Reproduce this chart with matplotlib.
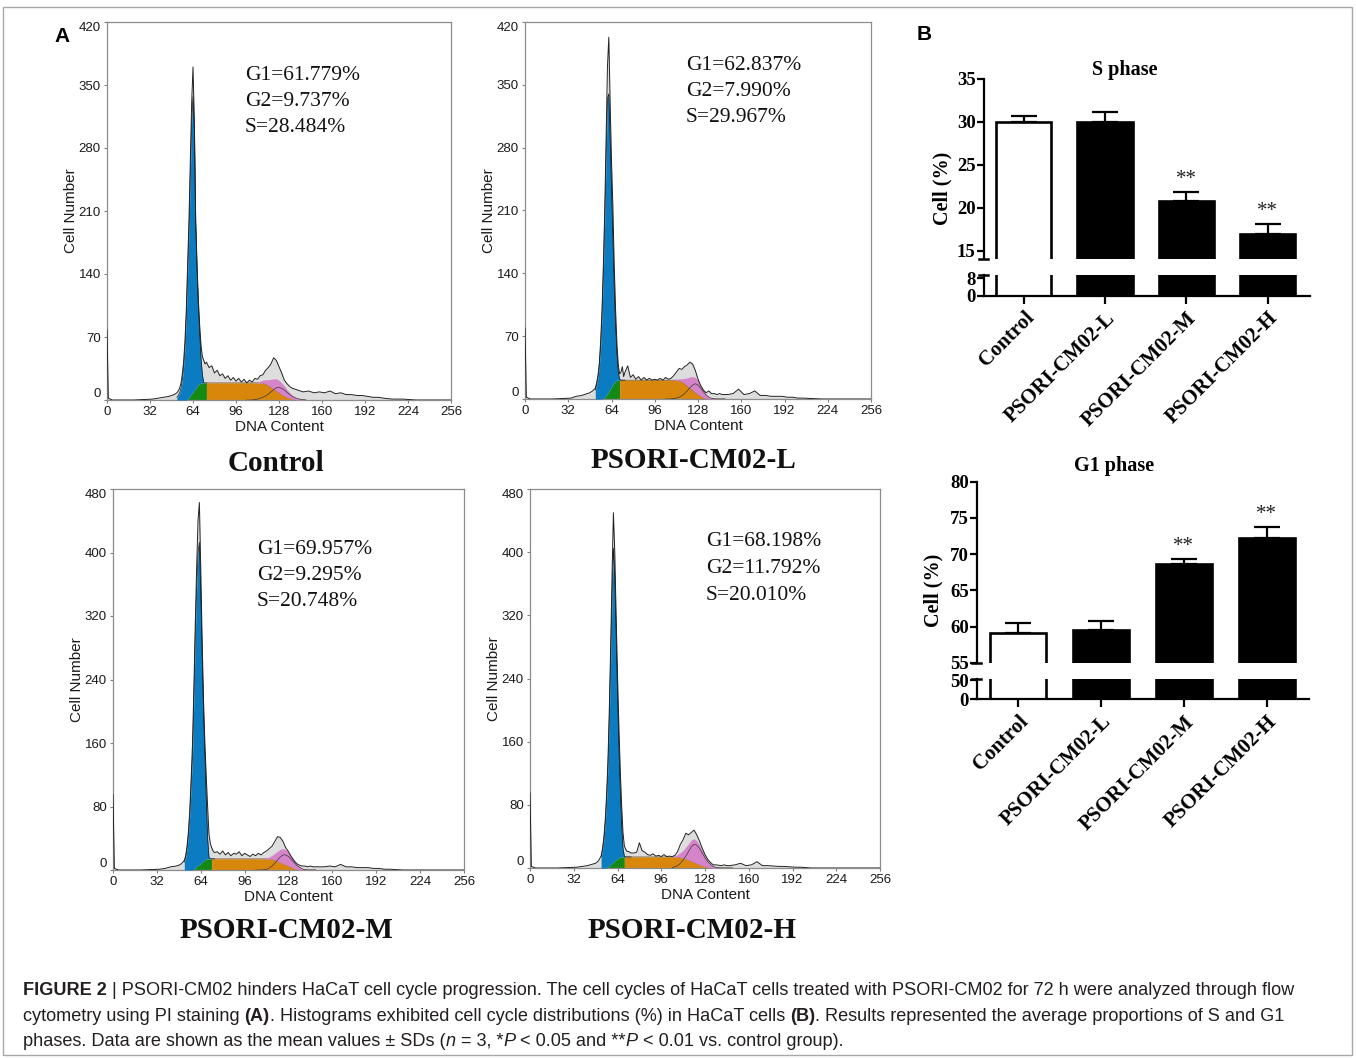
import numpy as np
import matplotlib
matplotlib.use("Agg")
import matplotlib.pyplot as plt
from matplotlib.lines import Line2D
from matplotlib.patches import Rectangle
from matplotlib.font_manager import FontProperties

plt.rcParams['font.family'] = ['Liberation Sans', 'DejaVu Sans']

# ---------------- data: flow cytometry histograms (panel A) ----------------
hist_channels = [0, 1, 4, 20, 34, 38, 42, 46, 48, 50] + list(range(52, 75)) + \
    list(range(76, 147, 2)) + list(range(150, 207, 4)) + [212, 220, 230, 256]
s_channels = list(range(52, 75)) + list(range(76, 149, 2))
g1_channels = list(range(52, 75))
g2_channels = list(range(104, 149, 2))

ctrl_total = [78, 2, 0, 0, 1, 2, 3, 4, 5, 6,
              8, 10, 13, 18, 28, 42, 65, 100, 150, 200, 265, 330, 370, 310, 200, 150, 110, 82, 60, 48, 44, 40, 42,
              36, 38, 30, 33, 27, 29, 24, 27, 22, 25, 21, 24, 20, 23, 19, 22, 20, 24, 23, 27, 28, 33, 36, 40, 47, 44,
              37, 30, 22, 18, 15, 13, 12, 11, 10, 9,
              10, 8, 9, 8, 10, 7, 8, 6, 6, 5, 5, 4, 3, 3, 2,
              1, 1, 0, 0]
ctrl_s = [0, 0, 0, 0, 0, 0, 0, 0, 1, 3, 5, 7, 9, 11, 13, 15, 17, 18, 19, 19, 19, 19, 19,
          19, 19, 19, 19, 19, 19, 19, 19, 19, 19, 19, 19, 19, 19, 19, 19, 19, 19, 19, 19, 19,
          18, 16, 14, 12, 10, 8, 6, 4.5, 3, 2, 1, 0.5, 0, 0, 0, 0]
ctrl_g1 = [3, 5, 8, 13, 22, 36, 58, 92, 139, 185, 245, 303, 328, 290, 182, 130, 88, 56, 26, 9, 0, 0, 0]
ctrl_g2 = [0, 0, 0, 0.5, 1, 2, 3, 4.5, 6.5, 9, 11.5, 13.5, 14, 13, 11, 8.5, 6, 4, 2.5, 1.5, 0.8, 0.3, 0]

l_total = [79, 2, 0, 0, 1, 3, 4, 6, 7, 9,
           12, 18, 26, 40, 65, 100, 150, 210, 290, 370, 403, 330, 265, 215, 150, 100, 62, 38, 28, 30, 36, 25, 30,
           37, 24, 27, 22, 25, 21, 24, 21, 23, 21, 22, 21, 23, 21, 24, 22, 23, 26, 30, 34, 33, 36, 38, 41, 39, 32,
           22, 15, 10, 7, 9, 6, 6, 5, 6, 5,
           5, 6, 11, 5, 6, 9, 4, 4, 3, 3, 3, 2, 2, 1, 1,
           0.5, 0, 0, 0]
l_s = [0, 0, 0, 0, 0, 0, 0.5, 2, 4, 6, 8.5, 11, 13.5, 16, 18, 20, 21, 21, 21, 21, 21, 21, 21,
       21, 21, 21, 21, 21, 21, 21, 21, 21, 21, 21, 21, 21, 21, 21, 21, 21, 21, 21,
       20.5, 19, 17, 14.5, 12, 9.5, 7, 5, 3, 1.5, 0.5, 0, 0, 0, 0, 0, 0, 0]
l_g1 = [10, 16, 24, 37, 60, 95, 141.5, 198, 266, 329, 331.5, 279, 221.5, 164, 107, 62, 29, 9, 1, 0, 0, 0, 0]
l_g2 = [0, 0, 0.2, 0.5, 1, 2, 3.5, 6, 9, 12.5, 15.5, 17, 15.5, 12, 8, 4.5, 2, 0.8, 0.2, 0, 0, 0, 0]

m_total = [95, 2, 0, 0, 1, 2, 4, 5, 6, 8,
           12, 18, 30, 48, 75, 115, 160, 230, 310, 380, 440, 463, 380, 290, 215, 160, 118, 80, 45, 33, 28, 24, 22,
           23, 20, 24, 19, 22, 18, 21, 20, 23, 18, 21, 19, 17, 20, 18, 21, 19, 22, 24, 27, 30, 36, 42, 41, 36, 28,
           23, 17, 12, 8, 6, 5, 5, 4, 5, 4,
           4, 4, 5, 4, 7, 4, 4, 3, 3, 3, 2, 2, 1, 1, 0.5,
           0, 0, 0, 0]
m_s = [0, 0, 0, 0, 0, 0, 0, 1, 2.5, 4, 5.5, 7, 8.5, 10, 11.5, 13, 14, 14, 14, 14, 14, 14, 14,
       14, 14, 14, 14, 14, 14, 14, 14, 14, 14, 14, 14, 14, 14, 14, 14, 14, 14, 14, 14,
       13.5, 12.5, 11, 9.5, 8, 6.5, 5, 3.5, 2, 1, 0.3, 0, 0, 0, 0, 0, 0]
m_g1 = [10, 16, 27, 44, 70, 108, 145, 219, 292.5, 351, 394.5, 406, 341.5, 260, 188.5, 132, 76, 26, 2, 0.5, 0, 0, 0]
m_g2 = [0, 0, 0, 0.3, 1, 2.5, 5, 8.5, 12.5, 16.5, 19, 19, 17, 13.5, 9.5, 6, 3.5, 1.5, 0.5, 0, 0, 0, 0]

h_total = [95, 2, 0, 0, 1, 2, 3, 5, 6, 9,
           15, 24, 38, 60, 92, 135, 200, 280, 370, 450, 400, 320, 245, 180, 125, 80, 45, 28, 24, 21, 21, 20, 19,
           19, 20, 32, 22, 20, 17, 16, 18, 15, 16, 14.5, 17, 14.5, 15, 14.5, 16, 21, 30, 36, 44, 42, 45, 48, 42,
           34, 25, 17, 11, 7, 4, 4, 3.5, 3, 4, 3, 3,
           4, 6, 3, 4, 8, 3, 3, 2.5, 2, 2, 1.5, 1, 1, 0.5, 0,
           0, 0, 0, 0]
h_s = [0, 0, 0, 0, 0.3, 1.5, 3, 4.5, 6, 7.5, 9, 10.5, 12, 13, 14, 14, 14, 14, 14, 14, 14, 14, 14,
       14, 14, 14, 14, 14, 14, 14, 14, 14, 14, 14, 14, 14, 14, 14, 14, 14,
       13.5, 12.5, 11.5, 10, 8.5, 7, 5.5, 4, 3, 2, 1, 0.4, 0, 0, 0, 0, 0, 0, 0, 0]
h_g1 = [14, 22, 35, 56, 85.7, 126.5, 187, 260.5, 339, 397.5, 361, 284.5, 208, 142, 86, 41, 11, 1, 0, 0, 0, 0, 0]
h_g2 = [0.5, 1.5, 3, 6, 10, 15, 21, 27, 30, 29, 25, 19, 13, 8, 4.5, 2, 0.8, 0.2, 0, 0, 0, 0, 0]

ctrl_stats = ["G1=61.779%", "G2=9.737%", "S=28.484%"]
l_stats = ["G1=62.837%", "G2=7.990%", "S=29.967%"]
m_stats = ["G1=69.957%", "G2=9.295%", "S=20.748%"]
h_stats = ["G1=68.198%", "G2=11.792%", "S=20.010%"]

# ---------------- data: bar charts (panel B) ----------------
groups = ["Control", "PSORI-CM02-L", "PSORI-CM02-M", "PSORI-CM02-H"]
s_phase_mean = [30.0, 30.0, 20.8, 17.0]
s_phase_sd = [0.75, 1.15, 1.0, 1.1]
g1_phase_mean = [59.15, 59.45, 68.6, 72.25]
g1_phase_sd = [1.4, 1.3, 0.7, 1.45]
signif = ["", "", "**", "**"]

# ---------------- figure ----------------
W, H = 1356, 1058
fig = plt.figure(figsize=(W / 100, H / 100), dpi=100)

BLUE = '#0B7CC1'
GREEN = '#148A14'
ORANGE = '#D8870C'
PINK = '#D684C9'
GRAY = '#dddddd'


def px_axes(l, t, r, b):
    return fig.add_axes([l / W, 1 - b / H, (r - l) / W, (b - t) / H])


def histogram_panel(box, ymax, ystep, total, s, g1, g2, split, stats, stats_xy, title, title_xy):
    ax = px_axes(*box)
    ch = np.array(hist_channels, float)
    tot = np.array(total, float)
    ax.fill_between(ch, 0, tot, color=GRAY, lw=0, zorder=1)
    sc = np.array(s_channels, float)
    sv = np.array(s, float)
    mg = sc <= split
    mo = sc >= split
    ax.fill_between(sc[mg], 0, sv[mg], color=GREEN, lw=0, zorder=2)
    ax.fill_between(sc[mo], 0, sv[mo], color=ORANGE, lw=0, zorder=2)
    ax.plot(sc[mo], sv[mo], color='#5a3a00', lw=0.4, zorder=2.5)
    i1 = [s_channels.index(c) for c in g1_channels]
    b1 = sv[i1]
    g1v = np.array(g1, float)
    ax.fill_between(g1_channels, b1, b1 + g1v, color=BLUE, lw=0, zorder=3)
    ax.plot(g1_channels, b1 + g1v, color='#1a1a1a', lw=0.5, zorder=4)
    i2 = [s_channels.index(c) for c in g2_channels]
    b2 = sv[i2]
    g2v = np.array(g2, float)
    ax.fill_between(g2_channels, b2, b2 + g2v, color=PINK, lw=0, zorder=3)
    ax.plot(g2_channels, g2v, color='#3a3a3a', lw=0.5, zorder=4)
    ax.plot(ch, tot, color='#222222', lw=0.7, zorder=5)
    ax.set_xlim(0, 256)
    ax.set_ylim(0, ymax)
    ax.set_xticks(np.arange(0, 257, 32))
    ax.set_yticks(np.arange(0, ymax + 1, ystep))
    ax.tick_params(labelsize=9.5, length=2.5, width=0.8, color='#808080', pad=2, labelcolor='#1a1a1a')
    for sp in ax.spines.values():
        sp.set_color('#8c8c8c')
        sp.set_linewidth(0.9)
    ax.set_xlabel('DNA Content', fontsize=11, labelpad=1, color='#1a1a1a')
    ax.set_ylabel('Cell Number', fontsize=11, labelpad=0.5, color='#1a1a1a')
    yt = ax.yaxis.get_major_ticks()
    yt[0].label1.set_va('bottom')
    yt[-1].label1.set_va('top')
    x0, y0 = stats_xy
    for k, line in enumerate(stats):
        fig.text(x0 / W, 1 - (y0 + 26.5 * k) / H, line, family='Liberation Serif',
                 fontsize=15.5, ha='left', va='center', color='#111111')
    fig.text(title_xy[0] / W, 1 - title_xy[1] / H, title, family='Liberation Serif',
             fontweight='bold', fontsize=21, ha='center', va='center', color='#111111')


histogram_panel((107, 22, 451, 400), 420, 70, ctrl_total, ctrl_s, ctrl_g1, ctrl_g2, 74,
                ctrl_stats, (245, 75), "Control", (276, 463))
histogram_panel((525, 22, 871, 399), 420, 70, l_total, l_s, l_g1, l_g2, 70,
                l_stats, (686, 65), "PSORI-CM02-L", (693, 461))
histogram_panel((113, 489, 464, 870), 480, 80, m_total, m_s, m_g1, m_g2, 72,
                m_stats, (257, 549), "PSORI-CM02-M", (286, 931))
histogram_panel((530, 489, 880, 868), 480, 80, h_total, h_s, h_g1, h_g2, 69,
                h_stats, (706, 542), "PSORI-CM02-H", (692, 930))


def bar_panel(up_box, low_box, up_lim, low_lim, up_ticks, low_ticks, means, sds,
              title, title_xy, ylabel_xy, xlim):
    axu = px_axes(*up_box)
    axl = px_axes(*low_box)
    x = np.arange(len(groups))
    colors = ['white', 'black', 'black', 'black']
    for ax in (axu, axl):
        ax.bar(x, means, width=0.68, color=colors, edgecolor='black', linewidth=1.9, zorder=2)
        ax.set_xlim(*xlim)
        ax.spines['top'].set_visible(False)
        ax.spines['right'].set_visible(False)
        ax.spines['left'].set_linewidth(1.6)
        ax.spines['bottom'].set_linewidth(1.6)
        ax.tick_params(axis='y', direction='out', length=5, width=1.6, labelsize=13.5, pad=1)
        ax.set_facecolor('none')
    axu.errorbar(x, means, yerr=[np.zeros(len(x)), sds], fmt='none', ecolor='black',
                 elinewidth=1.6, capsize=9.5, capthick=1.6, zorder=1)
    for i, (m, sd, st) in enumerate(zip(means, sds, signif)):
        if st:
            axu.annotate(st, xy=(i, m + sd), xytext=(0, 9), textcoords='offset points',
                         ha='center', va='center', family='Liberation Serif', fontsize=15,
                         color='#222222')
    axu.set_ylim(*up_lim)
    axl.set_ylim(*low_lim)
    axu.set_yticks(up_ticks)
    axl.set_yticks(low_ticks)
    axu.spines['bottom'].set_visible(False)
    axu.set_xticks([])
    axl.set_xticks(x)
    axl.set_xticklabels(groups, rotation=45, ha='right', rotation_mode='anchor')
    axl.tick_params(axis='x', direction='out', length=6, width=1.6, labelsize=15, pad=3)
    for ax in (axu, axl):
        for lab in ax.get_yticklabels() + ax.get_xticklabels():
            lab.set_family('Liberation Serif')
            lab.set_fontweight('bold')
    # axis-break marks
    spx = up_box[0]
    for yy in (up_box[3], low_box[1]):
        fig.add_artist(Line2D([(spx - 5) / W, (spx + 4) / W], [1 - yy / H, 1 - yy / H],
                              color='black', lw=1.8, transform=fig.transFigure))
    fig.text(title_xy[0] / W, 1 - title_xy[1] / H, title, family='Liberation Serif',
             fontweight='bold', fontsize=14.5, ha='center', va='center')
    fig.text(ylabel_xy[0] / W, 1 - ylabel_xy[1] / H, "Cell (%)", family='Liberation Serif',
             fontweight='bold', fontsize=14.5, ha='center', va='center', rotation=90)


bar_panel((984, 79, 1310, 258.7), (984, 275, 1310, 295.5), (14.1, 35), (0, 9.4),
          [15, 20, 25, 30, 35], [0, 8], s_phase_mean, s_phase_sd,
          "S phase", (1125, 70), (942, 188), (-0.49, 3.52))
bar_panel((977, 481.7, 1309, 662.7), (977, 679, 1309, 699.3), (55, 80), (0, 52.6),
          [55, 60, 65, 70, 75, 80], [0, 50], g1_phase_mean, g1_phase_sd,
          "G1 phase", (1114, 466.5), (933, 590), (-0.495, 3.51))

# panel letters
fig.text(62 / W, 1 - 36 / H, "A", fontsize=15, fontweight='bold', ha='center', va='center')
fig.text(924 / W, 1 - 35 / H, "B", fontsize=15, fontweight='bold', ha='center', va='center')

# frame
fig.add_artist(Rectangle((3 / W, 1 - 1055 / H), (1352 - 3) / W, (1055 - 7) / H,
                         transform=fig.transFigure, fill=False, edgecolor='#a8a8a8', lw=1))

# caption with mixed styles
renderer = fig.canvas.get_renderer()


def text_width(s, fp):
    w1, _, _ = renderer.get_text_width_height_descent('x' + s + 'x', fp, ismath=False)
    w2, _, _ = renderer.get_text_width_height_descent('xx', fp, ismath=False)
    return w1 - w2


def rich(x, y, parts, size):
    for s, weight, style in parts:
        fp = FontProperties(family='Liberation Sans', size=size, weight=weight, style=style)
        fig.text(x / W, 1 - y / H, s, fontproperties=fp, color='#231f20', va='baseline', ha='left')
        x += text_width(s, fp)


CAP = 13.05
N, B, I = ('normal', 'normal'), ('bold', 'normal'), ('normal', 'italic')
rich(23, 995, [("FIGURE 2 ", *B),
               ("| PSORI-CM02 hinders HaCaT cell cycle progression. The cell cycles of HaCaT cells "
                "treated with PSORI-CM02 for 72 h were analyzed through flow", *N)], CAP)
rich(23, 1021, [("cytometry using PI staining ", *N), ("(A)", *B),
                (". Histograms exhibited cell cycle distributions (%) in HaCaT cells ", *N),
                ("(B)", *B), (". Results represented the average proportions of S and G1", *N)], CAP)
rich(23, 1046, [("phases. Data are shown as the mean values \u00b1 SDs (", *N), ("n", *I),
                (" = 3, *", *N), ("P", *I), (" < 0.05 and **", *N), ("P", *I),
                (" < 0.01 vs. control group).", *N)], CAP)

fig.savefig("out.png", dpi=100)
